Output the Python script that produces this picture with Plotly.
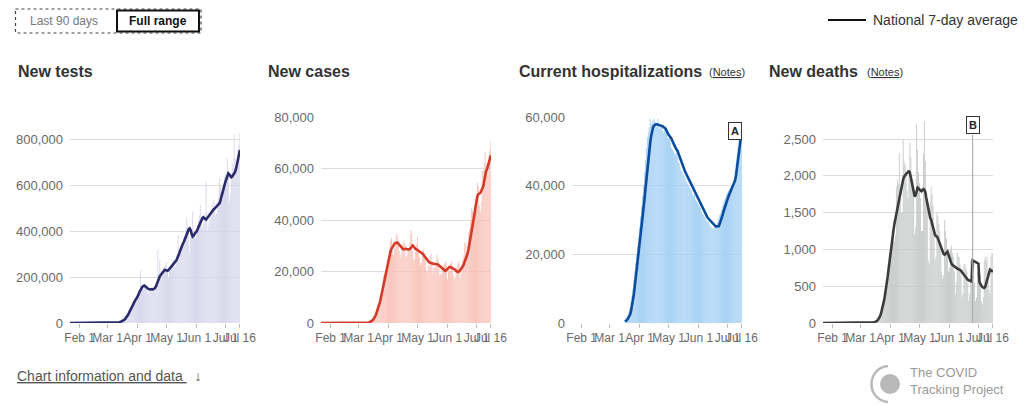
import pandas as pd
import plotly.graph_objects as go

# ---------------- data ----------------
START_MAIN = "2020-01-22"
START_HOSP = "2020-03-17"

zeros_jan_feb = [0, 0, 0, 0, 0, 0, 0, 0, 0, 0,
                 0, 0, 0, 0, 0, 0, 0, 0, 0, 0,
                 0, 0, 0, 0, 0, 0, 0, 0, 0, 0,
                 0, 0, 0, 0, 0, 0, 0, 0, 0]

tests_daily = zeros_jan_feb + [
    0, 0, 0, 150, 250, 350, 600, 800, 1000, 1400,
    1800, 2600, 3500, 4800, 6500, 9000, 12000, 15000, 20000, 26000,
    32000, 40000, 50000, 60000, 68000, 78000, 95000, 100000, 98000, 104000, 112000,
    118000, 130000, 142000, 230000, 160000, 150000, 145000, 172000, 155000, 148000,
    140000, 130000, 146000, 152000, 150000, 155000, 160000, 140000, 135000, 160000,
    185000, 320000, 215000, 275000, 220000, 200000, 210000, 240000, 245000, 250000,
    265000, 225000, 200000, 230000, 245000, 255000, 260000, 275000, 255000, 245000,
    270000, 300000, 385000, 300000, 310000, 340000, 320000, 345000, 370000, 380000,
    410000, 460000, 420000, 390000, 306000, 375000, 410000, 487000, 400000, 380000, 370000,
    400000, 430000, 450000, 470000, 515000, 460000, 410000, 430000, 470000, 480000,
    618000, 405000, 440000, 420000, 460000, 490000, 500000, 520000, 540000, 505000,
    470000, 480000, 530000, 550000, 634000, 600000, 560000, 540000, 580000, 640000,
    650000, 640000, 720000, 660000, 525000, 560000, 640000, 700000, 680000, 822000,
    720000, 660000, 700000, 760000, 780000, 830000]

tests_avg = zeros_jan_feb + [
    0, 0, 0, 100, 200, 300, 500, 700, 900, 1200,
    1600, 2200, 3000, 4000, 5500, 7500, 10000, 13000, 17000, 22000,
    28000, 35000, 43000, 52000, 61000, 72000, 82000, 90000, 97000, 103000, 108000,
    115000, 125000, 136000, 145000, 152000, 158000, 162000, 163000, 160000, 155000,
    151000, 149000, 148000, 147000, 146000, 146000, 147000, 149000, 152000, 160000,
    172000, 185000, 196000, 204000, 210000, 215000, 222000, 228000, 232000, 231000,
    229000, 228000, 231000, 236000, 241000, 246000, 250000, 253000, 258000, 265000,
    273000, 282000, 290000, 302000, 315000, 328000, 340000, 347000, 355000, 366000,
    377000, 390000, 402000, 410000, 413000, 405000, 388000, 378000, 382000, 390000, 395000,
    399000, 410000, 422000, 432000, 438000, 448000, 457000, 462000, 460000, 455000,
    452000, 458000, 465000, 470000, 474000, 479000, 486000, 492000, 497000, 501000,
    505000, 510000, 515000, 519000, 524000, 538000, 555000, 574000, 592000, 608000,
    618000, 628000, 642000, 654000, 650000, 640000, 637000, 640000, 645000, 651000,
    660000, 674000, 690000, 712000, 735000, 756000]

cases_daily = zeros_jan_feb + [
    3, 5, 10, 20, 30, 50, 70, 80, 120, 150,
    250, 350, 500, 700, 1000, 1500, 2200, 2900, 4200, 5700,
    7000, 8000, 9800, 11000, 12500, 16000, 18500, 19500, 20000, 21500, 24000,
    26000, 28500, 32000, 33000, 28000, 26500, 29000, 31500, 34500, 34000,
    32000, 28000, 25000, 27000, 29500, 31000, 32000, 30500, 26000, 25500,
    28000, 29000, 31500, 36000, 35000, 28000, 25000, 24500, 27500, 30500,
    33500, 29000, 25500, 22500, 23500, 26000, 28500, 27000, 24500, 20500,
    19500, 22500, 21500, 26000, 27000, 24000, 19500, 21500, 21500, 22000,
    26500, 25000, 24000, 18500, 19000, 19000, 20500, 22500, 23000, 24000, 22500,
    17000, 20500, 20000, 23000, 24000, 22500, 18500, 17000, 18000, 21000,
    22000, 24000, 23000, 17500, 19500, 23000, 25000, 26500, 31500, 31000,
    27500, 30000, 35500, 37000, 40000, 44500, 43500, 39500, 40500, 45000,
    49000, 54500, 53000, 45500, 43000, 47000, 59000, 59000, 62000, 66500,
    61500, 58500, 57000, 65000, 67500, 71000]

cases_avg = zeros_jan_feb + [
    5, 8, 10, 15, 25, 40, 60, 70, 90, 120,
    200, 300, 450, 650, 900, 1300, 1800, 2500, 3300, 4300,
    5400, 6600, 8000, 9700, 11600, 13600, 15600, 17600, 19500, 21300, 23000,
    25000, 26600, 27800, 28800, 29600, 30200, 30700, 31100, 31300, 31200,
    30900, 30500, 30000, 29400, 28900, 28700, 28700, 28800, 28800, 28700,
    28600, 28600, 28700, 29300, 30000, 30100, 29700, 29000, 28700, 28600,
    28400, 28100, 27800, 27500, 27300, 27000, 26500, 25900, 25300, 24800,
    24400, 24000, 23600, 23400, 23200, 23100, 23000, 22900, 22900, 22900,
    22900, 22700, 22400, 22100, 21900, 21700, 21300, 20800, 20400, 20300, 20600,
    21000, 21400, 21700, 21700, 21500, 21300, 21100, 21000, 20700, 20200,
    19900, 19800, 20000, 20400, 20800, 21300, 22000, 22900, 23900, 24800,
    25800, 27200, 29000, 31000, 33200, 35500, 37800, 40000, 42300, 45000,
    47800, 49300, 50000, 50200, 50500, 51300, 52300, 53000, 55000, 57200,
    58900, 59800, 61000, 62500, 64000, 65200]

hosp_daily = [
    1000, 1500, 2000, 2600, 3200, 4500, 6000, 8000, 10000, 12500, 15000, 17500, 20000, 22500, 25000,
    28000, 31000, 34000, 37000, 40000, 44000, 47500, 51000, 54000, 55500,
    57000, 59500, 58000, 58500, 59000, 59500, 58500, 57000, 58000, 59500,
    57500, 56500, 57000, 57500, 56000, 55500, 56500, 57000, 55500, 54000,
    53500, 54000, 52500, 51000, 50500, 50000, 49500, 49000, 49500, 48500,
    47000, 46500, 45500, 44500, 44000, 43500, 43000, 42500, 41500, 41000,
    40500, 40000, 39500, 39000, 38500, 37500, 37000, 37500, 36000, 35500, 35000,
    34500, 34000, 33500, 32500, 32000, 31500, 31000, 30500, 30000, 29500,
    29500, 29000, 28500, 28000, 27800, 27500, 27500, 27800, 28000, 28500,
    29500, 30500, 31500, 32000, 33000, 34000, 35000, 36000, 36500, 37500,
    38000, 38500, 39000, 39500, 40000, 40500, 41000, 42000, 44500, 46500,
    49000, 51000, 53000, 54000, 55500, 57000]

hosp_avg = [
    400, 600, 900, 1300, 1800, 2300, 3300, 4600, 6200, 8200, 10600, 13000, 15400, 17600, 19800,
    22200, 25000, 28000, 31000, 33500, 35800, 38800, 42000, 45200, 48000,
    50300, 52500, 54500, 56100, 57000, 57500, 57800, 57900, 57900, 57800,
    57700, 57600, 57600, 57500, 57300, 57000, 56800, 56600, 56000, 55300,
    54800, 54500, 54200, 53700, 53000, 52300, 51700, 51000, 50600, 50300,
    49500, 48600, 47800, 46900, 46000, 45400, 44800, 44200, 43600, 43000,
    42400, 41800, 41200, 40600, 40100, 39500, 38900, 38400, 37800, 37200, 36700,
    36100, 35400, 34800, 34200, 33600, 33000, 32500, 31900, 31400, 30900,
    30500, 30200, 29800, 29400, 29000, 28700, 28400, 28200, 28100, 28200,
    28200, 28200, 28900, 29600, 30500, 31500, 32500, 33500, 34400, 35300,
    36000, 36800, 37500, 38200, 38800, 39200, 39900, 40600, 41600, 43200,
    45500, 48400, 50800, 52700, 54300, 55200]

deaths_daily = zeros_jan_feb + [
    0, 1, 1, 2, 1, 1, 2, 3, 3, 4,
    5, 7, 9, 12, 14, 18, 26, 38, 60, 80,
    110, 130, 160, 230, 300, 410, 460, 520, 500, 620, 900,
    1000, 1150, 1250, 1300, 1100, 1200, 1850, 1950, 1900, 2300,
    1850, 1500, 1500, 2500, 2200, 2150, 2000, 1800, 1700, 2000,
    2450, 2250, 2000, 1950, 1750, 1200, 1300, 2700, 2350, 2050,
    1900, 1700, 1250, 1250, 2300, 2750, 2200, 1700, 1600, 850,
    800, 1650, 1850, 1750, 1600, 1200, 850, 900, 1500, 1450,
    1350, 1250, 1000, 700, 600, 650, 1400, 1250, 1150, 950, 700,
    750, 1000, 1050, 950, 900, 700, 400, 550, 950, 900,
    900, 800, 650, 350, 400, 800, 800, 750, 700, 550,
    300, 400, 850, 800, 2450, 650, 550, 300, 350, 700,
    800, 750, 650, 300, 250, 350, 850, 900, 850, 900,
    700, 450, 400, 900, 950, 950]

deaths_avg = zeros_jan_feb + [
    0, 0, 1, 1, 1, 1, 2, 2, 2, 3,
    3, 4, 5, 7, 10, 14, 20, 30, 45, 65,
    90, 125, 170, 225, 290, 362, 440, 530, 630, 740, 860,
    960, 1060, 1160, 1260, 1350, 1420, 1500, 1580, 1650, 1720,
    1790, 1850, 1900, 1950, 1990, 2010, 2030, 2040, 2050, 2070,
    2040, 1980, 1900, 1820, 1760, 1720, 1740, 1810, 1840, 1830,
    1810, 1800, 1790, 1810, 1820, 1810, 1780, 1700, 1620, 1550,
    1480, 1430, 1404, 1350, 1280, 1223, 1200, 1180, 1177, 1150,
    1110, 1070, 1041, 1000, 960, 935, 928, 940, 965, 970, 930,
    880, 840, 810, 792, 780, 765, 755, 747, 740, 735,
    730, 725, 710, 690, 670, 650, 634, 620, 605, 588,
    580, 575, 570, 566, 850, 845, 840, 835, 825, 815,
    805, 560, 530, 505, 490, 480, 475, 490, 540, 611,
    660, 700, 724, 715, 705, 700]

panel_titles = ["New tests", "New cases", "Current hospitalizations", "New deaths"]
tick_dates = ["2020-02-01", "2020-03-01", "2020-04-01", "2020-05-01",
              "2020-06-01", "2020-07-01", "2020-07-16"]
tick_labels = ["Feb 1", "Mar 1", "Apr 1", "May 1", "Jun 1", "Jul 1", "Jul 16"]
y_ticks = [
    [0, 200000, 400000, 600000, 800000],
    [0, 20000, 40000, 60000, 80000],
    [0, 20000, 40000, 60000],
    [0, 500, 1000, 1500, 2000, 2500],
]
y_max = [900000, 80000, 60000, 2800]
note_A_date = "2020-07-09"
note_B_date = "2020-06-25"

# ---------------- styles ----------------
bar_colors = ["#d4d4ea", "#f8c0b6", "#9dccf3", "#c4c7c7"]
line_colors = ["#2b2a6b", "#d53a29", "#0b4c9e", "#3b3b3b"]
FONT = "Liberation Sans, Arial, Helvetica, sans-serif"
W, H = 1024, 405


def px(x):
    return x / W


def py(y):
    return 1 - y / H


dates_main = pd.date_range(START_MAIN, periods=len(tests_daily), freq="D")
dates_hosp = pd.date_range(START_HOSP, periods=len(hosp_daily), freq="D")

series = [
    (dates_main, tests_daily, tests_avg),
    (dates_main, cases_daily, cases_avg),
    (dates_hosp, hosp_daily, hosp_avg),
    (dates_main, deaths_daily, deaths_avg),
]

fig = go.Figure()
panel_left = [70, 321, 572, 823]
panel_w = 170
title_x = [16, 266, 517, 767]

layout = dict(
    template="none",
    width=W, height=H, margin=dict(l=0, r=0, t=0, b=0, pad=0, autoexpand=False),
    paper_bgcolor="white", plot_bgcolor="white",
    showlegend=False, bargap=0.12, barmode="overlay",
    font=dict(family=FONT, color="#333"),
)

annotations = []
shapes = []

for i, (d, daily, avg) in enumerate(series):
    xa = "x" if i == 0 else f"x{i+1}"
    ya = "y" if i == 0 else f"y{i+1}"
    fig.add_trace(go.Bar(x=d, y=daily, marker=dict(color=bar_colors[i], line=dict(width=0)),
                         xaxis=xa, yaxis=ya, hoverinfo="skip"))
    fig.add_trace(go.Scatter(x=d, y=avg, mode="lines",
                             line=dict(color=line_colors[i], width=2.6),
                             xaxis=xa, yaxis=ya, hoverinfo="skip"))
    xkey = "xaxis" if i == 0 else f"xaxis{i+1}"
    ykey = "yaxis" if i == 0 else f"yaxis{i+1}"
    layout[xkey] = dict(
        domain=[px(panel_left[i]), px(panel_left[i] + panel_w)],
        anchor=ya, type="date", automargin=False,
        range=["2020-01-22", "2020-07-16 02:00"],
        tickvals=tick_dates, ticktext=tick_labels, tickangle=0,
        ticks="outside", ticklen=4, tickcolor="#bdbdbd", tickwidth=1,
        tickfont=dict(size=12, color="#6a6a6a", family=FONT),
        showgrid=False, zeroline=False, showline=False, fixedrange=True,
    )
    layout[ykey] = dict(
        domain=[py(323), py(117)], anchor=xa, automargin=False,
        range=[0, y_max[i]],
        tickvals=y_ticks[i], tickformat=",d",
        showgrid=True, gridcolor="#dcdcdc", gridwidth=1,
        zeroline=False, showline=False, ticks="",
        ticklabelstandoff=6,
        tickfont=dict(size=13, color="#6a6a6a", family=FONT),
        fixedrange=True,
    )
    annotations.append(dict(
        x=px(title_x[i]), y=py(71), xref="paper", yref="paper",
        xanchor="left", yanchor="middle", showarrow=False,
        text=f"<b>{panel_titles[i]}</b>",
        font=dict(size=16, color="#333", family=FONT),
    ))

# (Notes) links
for nx in [707, 865]:
    annotations.append(dict(
        x=px(nx), y=py(72), xref="paper", yref="paper",
        xanchor="left", yanchor="middle", showarrow=False,
        text="(<u>Notes</u>)", font=dict(size=11, color="#333", family=FONT),
    ))

# note markers A and B
annotations.append(dict(
    x=note_A_date, y=py(131), xref="x3", yref="paper",
    xanchor="center", yanchor="middle", showarrow=False,
    text="<b>A</b>", font=dict(size=11, color="#222", family=FONT),
    bgcolor="white", bordercolor="#333", borderwidth=1, borderpad=2,
))
annotations.append(dict(
    x=note_B_date, y=py(125), xref="x4", yref="paper",
    xanchor="center", yanchor="middle", showarrow=False,
    text="<b>B</b>", font=dict(size=11, color="#222", family=FONT),
    bgcolor="white", bordercolor="#333", borderwidth=1, borderpad=2,
))
shapes.append(dict(
    type="line", xref="x4", yref="paper",
    x0=note_B_date, x1=note_B_date, y0=py(323), y1=py(135),
    line=dict(color="#a8a8a8", width=1), layer="above",
))

# legend
shapes.append(dict(type="line", xref="paper", yref="paper",
                   x0=px(828), x1=px(866), y0=py(20), y1=py(20),
                   line=dict(color="#111", width=2)))
annotations.append(dict(
    x=px(871), y=py(20), xref="paper", yref="paper", xanchor="left", yanchor="middle",
    showarrow=False, text="National 7-day average",
    font=dict(size=14, color="#333", family=FONT),
))

# range buttons
shapes.append(dict(type="rect", xref="paper", yref="paper",
                   x0=px(15.5), x1=px(201), y0=py(9), y1=py(33),
                   line=dict(color="#444", width=1.2, dash="dot")))
shapes.append(dict(type="rect", xref="paper", yref="paper",
                   x0=px(117), x1=px(199), y0=py(10.5), y1=py(31.5),
                   line=dict(color="#111", width=2)))
annotations.append(dict(
    x=px(64), y=py(21), xref="paper", yref="paper", xanchor="center", yanchor="middle",
    showarrow=False, text="Last 90 days", font=dict(size=12, color="#777", family=FONT),
))
annotations.append(dict(
    x=px(158), y=py(21), xref="paper", yref="paper", xanchor="center", yanchor="middle",
    showarrow=False, text="<b>Full range</b>", font=dict(size=12, color="#111", family=FONT),
))

# bottom link
annotations.append(dict(
    x=px(15), y=py(376), xref="paper", yref="paper", xanchor="left", yanchor="middle",
    showarrow=False, text="<u>Chart information and data </u>  ↓",
    font=dict(size=14, color="#555", family=FONT),
))

# logo
shapes.append(dict(type="circle", xref="paper", yref="paper",
                   x0=px(880), x1=px(900), y0=py(394), y1=py(374),
                   fillcolor="#b9b9b9", line=dict(width=0)))
shapes.append(dict(type="path", xref="paper", yref="paper",
                   path=f"M {px(888)},{py(366)} C {px(866)},{py(368)} {px(866)},{py(400)} {px(888)},{py(402)}",
                   line=dict(color="#b9b9b9", width=2.5)))
annotations.append(dict(
    x=px(908), y=py(381), xref="paper", yref="paper", xanchor="left", yanchor="middle",
    showarrow=False, align="left", text="The COVID<br>Tracking Project",
    font=dict(size=13, color="#9a9a9a", family=FONT),
))

layout["annotations"] = annotations
layout["shapes"] = shapes
fig.update_layout(**layout)

fig.write_html("out.html", config={"displayModeBar": False, "staticPlot": True},
               post_script="document.body.style.margin='0';")
